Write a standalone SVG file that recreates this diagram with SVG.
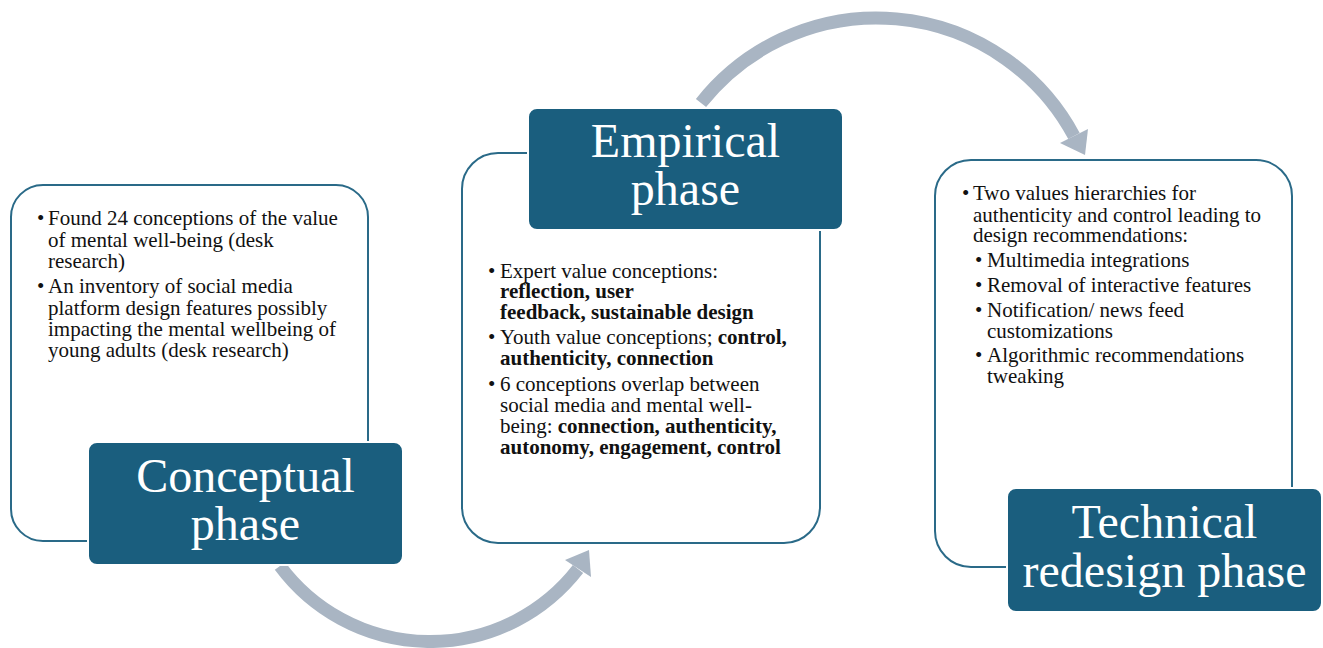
<svg xmlns="http://www.w3.org/2000/svg" width="1323" height="648" viewBox="0 0 1323 648">
<style>
.panel{fill:#ffffff;stroke:#2a6a88;stroke-width:2}
.title{fill:#1a5e7e;stroke:#ffffff;stroke-width:2}
.tt{font-family:"Liberation Serif","Times New Roman",serif;font-size:48px;fill:#ffffff;text-anchor:middle}
.bt{font-family:"Liberation Serif","Times New Roman",serif;font-size:21px;fill:#111111}
.b{font-weight:bold}
.arc{fill:none;stroke:#a9b5c3;stroke-width:13}
.head{fill:#a9b5c3}
</style>
<rect width="1323" height="648" fill="#ffffff"/>
<g id="connectors">
<path class="arc" d="M 280 566 A 187 187 0 0 0 578 569"/>
<polygon class="head" points="565,560 589,550 591,577"/>
<path class="arc" d="M 701 103 A 224 224 0 0 1 1074 136"/>
<polygon class="head" points="1060,143 1088,129 1085,155"/>
</g>
<g id="conceptual">
<rect class="panel" x="11" y="185" width="357" height="356" rx="32"/>
<g class="bt">
<text x="37" y="225">•</text>
<text x="48" y="225">Found 24 conceptions of the value</text>
<text x="48" y="246.5">of mental well-being (desk</text>
<text x="48" y="267.5">research)</text>
<text x="37" y="293">•</text>
<text x="48" y="293">An inventory of social media</text>
<text x="48" y="314.5">platform design features possibly</text>
<text x="48" y="336">impacting the mental wellbeing of</text>
<text x="48" y="357">young adults (desk research)</text>
</g>
<rect class="title" x="88" y="442" width="315" height="123" rx="9"/>
<text class="tt" x="245.5" y="492">Conceptual</text>
<text class="tt" x="245.5" y="540">phase</text>
</g>
<g id="empirical">
<rect class="panel" x="462" y="153" width="358" height="390" rx="36"/>
<rect class="title" x="528" y="108" width="315" height="122" rx="9"/>
<text class="tt" x="685.5" y="157">Empirical</text>
<text class="tt" x="685.5" y="205">phase</text>
<g class="bt">
<text x="488" y="277.5">•</text>
<text x="500" y="277.5">Expert value conceptions:</text>
<text x="500" y="298" class="b">reflection, user</text>
<text x="500" y="318.5" class="b">feedback, sustainable design</text>
<text x="488" y="344">•</text>
<text x="500" y="344">Youth value conceptions; <tspan class="b">control,</tspan></text>
<text x="500" y="365" class="b">authenticity, connection</text>
<text x="488" y="391">•</text>
<text x="500" y="391">6 conceptions overlap between</text>
<text x="500" y="412">social media and mental well-</text>
<text x="500" y="432.5">being: <tspan class="b">connection, authenticity,</tspan></text>
<text x="500" y="453.5" class="b">autonomy, engagement, control</text>
</g>
</g>
<g id="technical">
<rect class="panel" x="935" y="160" width="357" height="407" rx="36"/>
<g class="bt">
<text x="962" y="200">•</text>
<text x="973" y="200">Two values hierarchies for</text>
<text x="973" y="221.5">authenticity and control leading to</text>
<text x="973" y="242">design recommendations:</text>
<text x="975" y="267">•</text>
<text x="987" y="267">Multimedia integrations</text>
<text x="975" y="291.5">•</text>
<text x="987" y="291.5">Removal of interactive features</text>
<text x="975" y="316.5">•</text>
<text x="987" y="316.5">Notification/ news feed</text>
<text x="987" y="338">customizations</text>
<text x="975" y="362">•</text>
<text x="987" y="362">Algorithmic recommendations</text>
<text x="987" y="383">tweaking</text>
</g>
<rect class="title" x="1007" y="488" width="315" height="124" rx="9"/>
<text class="tt" x="1164.5" y="538">Technical</text>
<text class="tt" x="1164.5" y="587">redesign phase</text>
</g>
</svg>
